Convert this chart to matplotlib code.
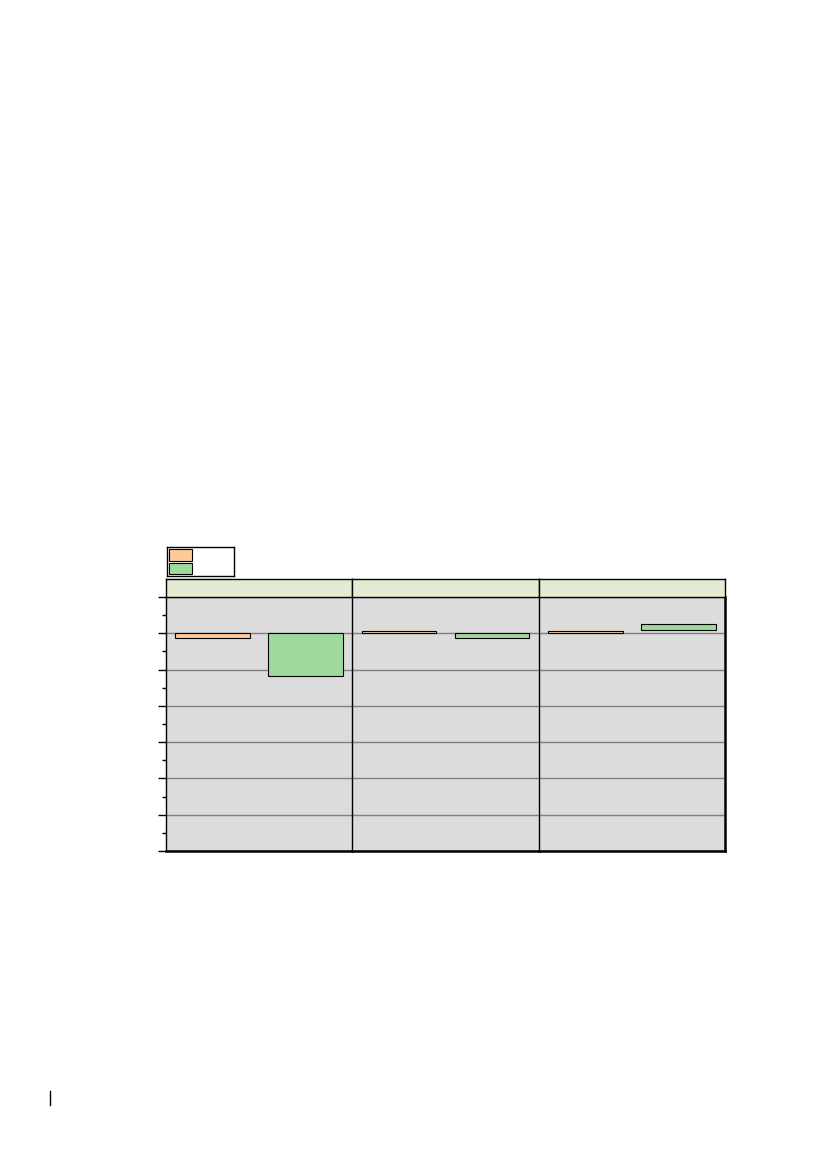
import matplotlib
matplotlib.use("Agg")
import matplotlib.pyplot as plt
from matplotlib.lines import Line2D
from matplotlib.patches import Rectangle
import numpy as np

# data (value units, zero at the first grid line)
panels = ["", "", ""]
categories = [0, 1]
orange_bottom = [0.0, 0.0, 0.0]
orange_top = [-0.14, 0.055, 0.055]
green_bottom = [0.0, 0.0, 0.10]
green_top = [-1.19, -0.12, 0.25]

ORANGE = "#FFCA99"
GREEN = "#9FD99C"
PANEL_BG = "#DCDCDC"
STRIP_BG = "#E2ECD2"

W, H = 826, 1169
fig = plt.figure(figsize=(W / 100, H / 100), dpi=100)


def fx(px):
    return px / W


def fy(py):
    return 1 - py / H


left, right = 166, 725
top, bottom = 597, 851
pw = (right - left) / len(panels)

for i, name in enumerate(panels):
    x0 = left + i * pw
    ax = fig.add_axes([fx(x0), fy(bottom), fx(pw), fy(top) - fy(bottom)])
    ax.set_facecolor(PANEL_BG)
    ob, ot = orange_bottom[i], orange_top[i]
    gb, gt = green_bottom[i], green_top[i]
    ax.bar(categories[0], ot - ob, bottom=ob, width=0.8, color=ORANGE,
           edgecolor="black", linewidth=0.8, zorder=3)
    ax.bar(categories[1], gt - gb, bottom=gb, width=0.8, color=GREEN,
           edgecolor="black", linewidth=0.8, zorder=3)
    ax.set_xlim(-0.5, 1.5)
    ax.set_ylim(-6, 1)
    ax.set_yticks(np.arange(-6, 2, 1))
    ax.set_yticks(np.arange(-5.5, 1, 1), minor=True)
    ax.yaxis.grid(True, which="major", color="#808080", linewidth=1.0, zorder=1)
    ax.set_axisbelow(True)
    ax.set_xticks([])
    ax.set_yticklabels([])
    for s in ["top", "right"]:
        ax.spines[s].set_visible(False)
    ax.spines["left"].set_linewidth(1.0)
    ax.spines["bottom"].set_linewidth(1.8)
    if i == len(panels) - 1:
        ax.spines["right"].set_visible(True)
        ax.spines["right"].set_linewidth(1.8)
    if i == 0:
        ax.tick_params(axis="y", which="major", direction="out", length=5.8, width=1.0)
        ax.tick_params(axis="y", which="minor", direction="out", length=2.9, width=1.0)
    else:
        ax.tick_params(axis="y", which="both", length=0)

    # facet strip
    sx = fig.add_axes([fx(x0), fy(top), fx(pw), fy(579) - fy(top)])
    sx.set_facecolor(STRIP_BG)
    sx.set_xticks([])
    sx.set_yticks([])
    for s in sx.spines.values():
        s.set_linewidth(1.0)
    sx.text(0.5, 0.5, name, ha="center", va="center", transform=sx.transAxes)

# legend box without labels
lg = fig.add_axes([fx(167), fy(576), fx(67), fy(547) - fy(576)])
lg.set_xticks([])
lg.set_yticks([])
for s in lg.spines.values():
    s.set_linewidth(1.0)
lg.set_xlim(0, 67)
lg.set_ylim(29, 0)
lg.add_patch(Rectangle((2, 2), 23, 12, facecolor=ORANGE, edgecolor="black", linewidth=0.8))
lg.add_patch(Rectangle((2, 16), 23, 11, facecolor=GREEN, edgecolor="black", linewidth=0.8))

# page footer mark
fig.add_artist(Line2D([fx(50), fx(50)], [fy(1091), fy(1105)], color="black", linewidth=1.0))

fig.savefig("out.png", dpi=100)
